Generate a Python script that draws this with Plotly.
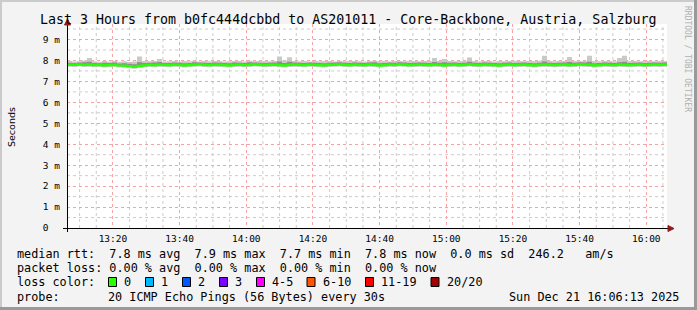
import plotly.graph_objects as go
import pandas as pd

# ---------------- data (ms) ----------------
title_text = "Last 3 Hours from b0fc444dcbbd to AS201011 - Core-Backbone, Austria, Salzburg"
start_time = "2025-12-21 13:06:13"
end_time = "2025-12-21 16:06:13"
step_seconds = 90

median_ms = [7.80,7.79,7.81,7.79,7.80,7.78,7.79,7.77,7.78,7.79,
             7.76,7.75,7.73,7.70,7.74,7.77,7.79,7.78,7.80,7.79,
             7.78,7.80,7.79,7.77,7.78,7.80,7.81,7.79,7.78,7.80,
             7.79,7.78,7.77,7.79,7.80,7.78,7.79,7.81,7.80,7.78,
             7.79,7.80,7.78,7.77,7.79,7.80,7.79,7.78,7.80,7.79,
             7.78,7.77,7.79,7.80,7.81,7.79,7.78,7.80,7.79,7.78,
             7.80,7.79,7.77,7.78,7.80,7.79,7.81,7.80,7.78,7.79,
             7.80,7.79,7.78,7.80,7.79,7.77,7.79,7.80,7.78,7.79,
             7.81,7.79,7.78,7.80,7.79,7.78,7.77,7.79,7.80,7.78,
             7.79,7.80,7.78,7.77,7.79,7.80,7.79,7.78,7.79,7.80,
             7.78,7.79,7.81,7.80,7.79,7.77,7.78,7.80,7.79,7.78,
             7.80,7.79,7.78,7.79,7.80,7.78,7.79,7.80,7.79,7.80]

max_ms = [7.97,7.95,7.96,8.00,8.12,7.96,7.94,7.97,7.95,7.98,
          7.94,7.96,7.93,7.95,8.19,7.97,7.96,7.98,8.07,7.95,
          7.96,7.98,7.95,7.97,7.96,7.99,7.95,7.97,7.96,7.98,
          7.97,7.95,7.96,7.98,7.97,7.95,7.99,7.96,7.97,7.98,
          7.96,7.98,8.19,8.00,8.16,7.97,7.96,7.98,7.95,7.97,
          7.96,7.98,7.97,7.95,7.99,7.96,7.97,7.98,7.96,7.95,
          7.97,7.99,7.96,7.97,7.95,7.98,7.97,7.96,7.99,7.97,
          7.96,7.98,7.97,8.12,7.98,8.07,7.97,7.96,7.98,7.97,
          8.14,7.97,7.96,7.98,7.97,7.95,7.98,7.96,7.97,7.99,
          7.97,7.96,7.98,7.97,7.99,8.22,7.97,7.96,7.98,7.97,
          8.17,7.98,7.96,7.97,8.22,7.98,7.96,7.97,7.98,7.96,
          8.12,8.22,7.98,7.97,7.96,7.98,7.97,7.96,7.98,7.97]

upper_q_ms = [7.89,7.88,7.90,7.91,7.94,7.88,7.87,7.89,7.88,7.90,
              7.86,7.87,7.84,7.82,7.92,7.88,7.89,7.90,7.93,7.88,
              7.88,7.90,7.89,7.87,7.88,7.91,7.90,7.89,7.88,7.90,
              7.89,7.88,7.87,7.90,7.89,7.88,7.91,7.90,7.89,7.88,
              7.89,7.90,7.95,7.88,7.94,7.90,7.89,7.88,7.90,7.89,
              7.88,7.87,7.89,7.90,7.91,7.89,7.88,7.90,7.89,7.88,
              7.90,7.91,7.87,7.88,7.90,7.89,7.91,7.90,7.88,7.89,
              7.90,7.89,7.88,7.93,7.89,7.91,7.89,7.90,7.88,7.89,
              7.94,7.89,7.88,7.90,7.89,7.88,7.87,7.89,7.90,7.88,
              7.89,7.90,7.88,7.87,7.89,7.95,7.89,7.88,7.89,7.90,
              7.93,7.89,7.91,7.90,7.94,7.87,7.88,7.90,7.89,7.88,
              7.92,7.94,7.88,7.89,7.90,7.88,7.89,7.90,7.89,7.90]

lower_q_ms = [7.76,7.75,7.77,7.75,7.76,7.74,7.75,7.73,7.74,7.75,
              7.72,7.71,7.69,7.67,7.70,7.73,7.75,7.74,7.76,7.75,
              7.74,7.76,7.75,7.73,7.74,7.76,7.77,7.75,7.74,7.76,
              7.75,7.74,7.73,7.75,7.76,7.74,7.75,7.77,7.76,7.74,
              7.75,7.76,7.74,7.73,7.75,7.76,7.75,7.74,7.76,7.75,
              7.74,7.73,7.75,7.76,7.77,7.75,7.74,7.76,7.75,7.74,
              7.76,7.75,7.73,7.74,7.76,7.75,7.77,7.76,7.74,7.75,
              7.76,7.75,7.74,7.76,7.75,7.73,7.75,7.76,7.74,7.75,
              7.77,7.75,7.74,7.76,7.75,7.74,7.73,7.75,7.76,7.74,
              7.75,7.76,7.74,7.73,7.75,7.76,7.75,7.74,7.75,7.76,
              7.74,7.75,7.77,7.76,7.75,7.73,7.74,7.76,7.75,7.74,
              7.76,7.75,7.74,7.75,7.76,7.74,7.75,7.76,7.75,7.76]

min_ms = [7.70,7.69,7.71,7.69,7.70,7.68,7.69,7.67,7.68,7.69,
          7.66,7.65,7.63,7.61,7.64,7.67,7.69,7.68,7.70,7.69,
          7.68,7.70,7.69,7.67,7.68,7.70,7.71,7.69,7.68,7.70,
          7.69,7.68,7.67,7.69,7.70,7.68,7.69,7.71,7.70,7.68,
          7.69,7.70,7.68,7.67,7.69,7.70,7.69,7.68,7.70,7.69,
          7.68,7.67,7.69,7.70,7.71,7.69,7.68,7.70,7.69,7.68,
          7.70,7.69,7.67,7.68,7.70,7.69,7.71,7.70,7.68,7.69,
          7.70,7.69,7.68,7.70,7.69,7.67,7.69,7.70,7.68,7.69,
          7.71,7.69,7.68,7.70,7.69,7.68,7.67,7.69,7.70,7.68,
          7.69,7.70,7.68,7.67,7.69,7.70,7.69,7.68,7.69,7.70,
          7.68,7.69,7.71,7.70,7.69,7.67,7.68,7.70,7.69,7.68,
          7.70,7.69,7.68,7.69,7.70,7.68,7.69,7.70,7.69,7.70]

y_tick_vals = [0, 1, 2, 3, 4, 5, 6, 7, 8, 9]
y_tick_text = ["0\u00a0\u00a0", "1 m", "2 m", "3 m", "4 m", "5 m", "6 m", "7 m", "8 m", "9 m"]
y_minor_grid = [0.5, 1.5, 2.5, 3.5, 4.5, 5.5, 6.5, 7.5, 8.5, 9.5]

legend_rows = [
    "median rtt:  7.8 ms avg  7.9 ms max  7.7 ms min  7.8 ms now  0.0 ms sd  246.2   am/s",
    "packet loss: 0.00 % avg  0.00 % max  0.00 % min  0.00 % now",
]
loss_labels = ["0", "1", "2", "3", "4-5", "6-10", "11-19", "20/20"]
loss_colors = ["#26ff00", "#00b8ff", "#0059ff", "#7e00ff", "#ff00ff", "#ff5500", "#ff0000", "#a10000"]
probe_text = "20 ICMP Echo Pings (56 Bytes) every 30s"
date_text = "Sun Dec 21 16:06:13 2025"

# ---------------- geometry helpers ----------------
W, H = 697, 310
L, R, T, B = 67, 667, 24, 228
def PX(px):
    return (px - L) / (R - L)
def PY(py):
    return (B - py) / (B - T)

times = pd.date_range(start=start_time, periods=len(median_ms), freq=f"{step_seconds}s")
times = list(times) + [pd.Timestamp(end_time)]
def ext(a):
    return list(a) + [a[-1]]

MONO = "DejaVu Sans Mono"
MAJOR = "#f4a4a4"
MINOR = "#cccccc"

fig = go.Figure()
fig.add_trace(go.Scatter(x=times, y=ext(min_ms), mode="lines", line=dict(width=0, shape="hv"),
                         hoverinfo="skip", showlegend=False))
fig.add_trace(go.Scatter(x=times, y=ext(max_ms), mode="lines", line=dict(width=0, shape="hv"),
                         fill="tonexty", fillcolor="#c9c9c9", hoverinfo="skip", showlegend=False))
fig.add_trace(go.Scatter(x=times, y=ext(lower_q_ms), mode="lines", line=dict(width=0, shape="hv"),
                         hoverinfo="skip", showlegend=False))
fig.add_trace(go.Scatter(x=times, y=ext(upper_q_ms), mode="lines", line=dict(width=0, shape="hv"),
                         fill="tonexty", fillcolor="#8f8f8f", hoverinfo="skip", showlegend=False))
fig.add_trace(go.Scatter(x=times, y=ext(median_ms), mode="lines",
                         line=dict(width=2.2, color="#26ff00", shape="hv"),
                         hoverinfo="skip", showlegend=False))

fig.update_layout(
    width=W, height=H,
    margin=dict(l=L, r=W - R, t=T, b=H - B, pad=0),
    paper_bgcolor="#f3f3f3", plot_bgcolor="#ffffff",
    showlegend=False,
    xaxis=dict(
        range=[start_time, end_time], type="date",
        tickformat="%H:%M", tick0="2025-12-21 13:00:00", dtick=20 * 60 * 1000,
        showgrid=True, gridcolor=MAJOR, griddash="dot", gridwidth=1,
        showline=False, zeroline=False, ticks="",
        tickfont=dict(family=MONO, size=9.5, color="#000000"),
        ticklabelstandoff=3,
    ),
    yaxis=dict(
        range=[0, (B - T) / 20.94], tickvals=y_tick_vals, ticktext=y_tick_text,
        showgrid=True, gridcolor=MAJOR, griddash="dot", gridwidth=1,
        showline=False, zeroline=False, ticks="",
        tickfont=dict(family=MONO, size=9.5, color="#000000"),
        ticklabelstandoff=6,
    ),
)

shapes = []
# minor grid (every 5 minutes / 0.5 ms), drawn beneath the traces
minor_times = pd.date_range("2025-12-21 13:10:00", "2025-12-21 16:05:00", freq="5min")
for t in minor_times:
    if t.minute % 20 == 0:
        continue
    shapes.append(dict(type="line", xref="x", yref="paper", x0=t, x1=t, y0=0, y1=1,
                       line=dict(color=MINOR, width=1, dash="dot"), layer="below"))
for v in y_minor_grid:
    shapes.append(dict(type="line", xref="paper", yref="y", x0=0, x1=1, y0=v, y1=v,
                       line=dict(color=MINOR, width=1, dash="dot"), layer="below"))
# 3D border
shapes.append(dict(type="rect", xref="paper", yref="paper", x0=PX(0), x1=PX(W), y0=PY(0), y1=PY(2),
                   fillcolor="#cbcbcb", line=dict(width=0), layer="above"))
shapes.append(dict(type="rect", xref="paper", yref="paper", x0=PX(0), x1=PX(2), y0=PY(0), y1=PY(H),
                   fillcolor="#cbcbcb", line=dict(width=0), layer="above"))
shapes.append(dict(type="rect", xref="paper", yref="paper", x0=PX(W - 3), x1=PX(W), y0=PY(0), y1=PY(H),
                   fillcolor="#999999", line=dict(width=0), layer="above"))
shapes.append(dict(type="rect", xref="paper", yref="paper", x0=PX(0), x1=PX(W), y0=PY(H - 3), y1=PY(H),
                   fillcolor="#999999", line=dict(width=0), layer="above"))
# axes
shapes.append(dict(type="line", xref="paper", yref="paper", x0=PX(63), x1=PX(669), y0=PY(228.5), y1=PY(228.5),
                   line=dict(color="#000000", width=1), layer="above"))
shapes.append(dict(type="line", xref="paper", yref="paper", x0=PX(67.5), x1=PX(67.5), y0=PY(232), y1=PY(24),
                   line=dict(color="#000000", width=1), layer="above"))
arrow_col = "#8c1c1c"
shapes.append(dict(type="path", xref="paper", yref="paper",
                   path=f"M {PX(64.5)},{PY(25)} L {PX(70.5)},{PY(25)} L {PX(67.5)},{PY(19)} Z",
                   fillcolor=arrow_col, line=dict(color=arrow_col, width=1), layer="above"))
shapes.append(dict(type="path", xref="paper", yref="paper",
                   path=f"M {PX(668)},{PY(225.5)} L {PX(668)},{PY(231.5)} L {PX(674)},{PY(228.5)} Z",
                   fillcolor=arrow_col, line=dict(color=arrow_col, width=1), layer="above"))

annotations = []
def txt(s, px, py, size=11.8, family=MONO, color="#000000", xanchor="left", angle=0):
    annotations.append(dict(text=s.replace(" ", "\u00a0"), x=PX(px), y=PY(py), xref="paper", yref="paper",
                            xanchor=xanchor, yanchor="middle", showarrow=False, textangle=angle,
                            font=dict(family=family, size=size, color=color)))

txt(title_text, 348, 19, size=13.3, xanchor="center")
txt("Seconds", 11, 127, size=9.5, family="DejaVu Sans", xanchor="center", angle=-90)
txt("RRDTOOL / TOBI OETIKER", 687, 59, size=8, color="#b0b0b0", xanchor="center", angle=90)
row_y = [254, 268.3, 282, 296.7]
txt(legend_rows[0], 15, row_y[0])
txt(legend_rows[1], 15, row_y[1])
txt("loss color:", 15, row_y[2])
box_x = [108.5, 145.5, 182.5, 219.5, 256.5, 307, 365.5, 431]
for bx, lab, col in zip(box_x, loss_labels, loss_colors):
    shapes.append(dict(type="rect", xref="paper", yref="paper", x0=PX(bx), x1=PX(bx + 8),
                       y0=PY(row_y[2] + 4.5), y1=PY(row_y[2] - 4.5),
                       fillcolor=col, line=dict(color="#000000", width=1), layer="above"))
    txt(lab, bx + 13.5, row_y[2])
txt("probe:", 15, row_y[3])
txt(probe_text, 106, row_y[3])
txt(date_text, 681, row_y[3], xanchor="right")

fig.update_layout(shapes=shapes, annotations=annotations)
fig.write_html("out.html")
